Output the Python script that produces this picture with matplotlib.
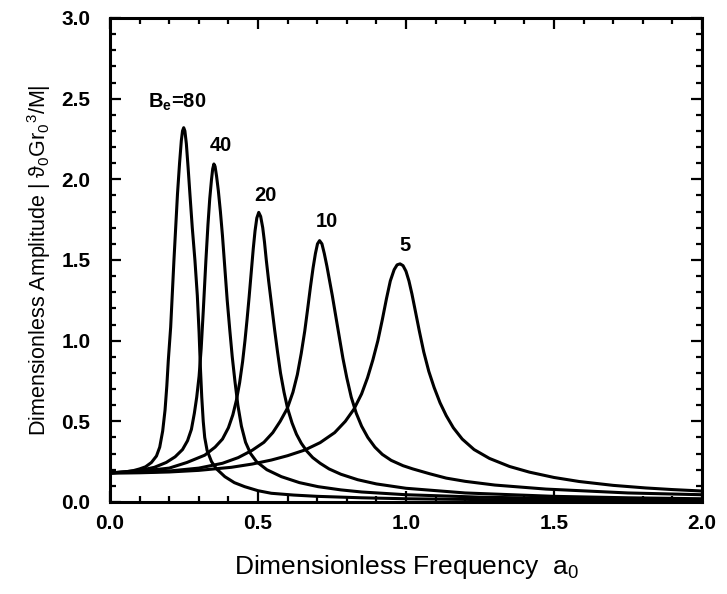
import matplotlib
matplotlib.use("Agg")
import matplotlib.pyplot as plt
from matplotlib.ticker import MultipleLocator

plt.rcParams['font.family'] = ['Liberation Sans', 'DejaVu Sans']
plt.rcParams['mathtext.fontset'] = 'custom'
plt.rcParams['mathtext.rm'] = 'Liberation Sans'
plt.rcParams['mathtext.it'] = 'Liberation Sans'
plt.rcParams['mathtext.bf'] = 'Liberation Sans:bold'

# ---- data ----
x_b80 = [0.0, 0.05, 0.08, 0.10, 0.12, 0.14, 0.157, 0.168, 0.178, 0.186, 0.192, 0.197,
         0.205, 0.216, 0.228, 0.235, 0.241, 0.245, 0.249, 0.253, 0.258, 0.264, 0.270,
         0.278, 0.287, 0.295, 0.301, 0.305, 0.310, 0.315, 0.320, 0.328, 0.343, 0.36,
         0.388, 0.42, 0.455, 0.50, 0.545, 0.62, 0.70, 0.85, 1.0, 1.25, 1.5, 2.0]
y_b80 = [0.18, 0.186, 0.195, 0.205, 0.218, 0.245, 0.285, 0.34, 0.44, 0.57, 0.72, 0.878,
         1.084, 1.497, 1.909, 2.10, 2.24, 2.30, 2.32, 2.30, 2.22, 2.07, 1.909,
         1.70, 1.497, 1.28, 1.05, 0.85, 0.65, 0.50, 0.40, 0.32, 0.25, 0.205,
         0.157, 0.12, 0.095, 0.07, 0.054, 0.043, 0.035, 0.026, 0.02, 0.015, 0.012, 0.008]

x_b40 = [0.0, 0.10, 0.15, 0.19, 0.22, 0.245, 0.262, 0.275, 0.285, 0.293, 0.301, 0.308,
         0.315, 0.324, 0.331, 0.337, 0.343, 0.347, 0.351, 0.355, 0.360, 0.366, 0.373,
         0.380, 0.386, 0.396, 0.405, 0.413, 0.422, 0.432, 0.444, 0.458, 0.475, 0.495,
         0.53, 0.579, 0.64, 0.703, 0.78, 0.85, 1.0, 1.25, 1.5, 2.0]
y_b40 = [0.18, 0.195, 0.215, 0.245, 0.28, 0.325, 0.38, 0.45, 0.55, 0.65, 0.78, 0.95,
         1.18, 1.497, 1.72, 1.88, 2.00, 2.065, 2.095, 2.08, 2.02, 1.93, 1.80,
         1.65, 1.50, 1.25, 1.06, 0.90, 0.75, 0.60, 0.47, 0.37, 0.30, 0.25,
         0.20, 0.157, 0.12, 0.095, 0.075, 0.062, 0.045, 0.03, 0.022, 0.013]

x_b20 = [0.0, 0.10, 0.20, 0.26, 0.32, 0.355, 0.38, 0.40, 0.415, 0.427, 0.438, 0.448,
         0.456, 0.463, 0.470, 0.477, 0.484, 0.490, 0.496, 0.5025, 0.509, 0.516, 0.522,
         0.528, 0.536, 0.545, 0.556, 0.566, 0.576, 0.588, 0.600, 0.615, 0.63, 0.646,
         0.665, 0.685, 0.71, 0.74, 0.78, 0.837, 0.90, 1.0, 1.2, 1.5, 1.75, 2.0]
y_b20 = [0.18, 0.19, 0.21, 0.245, 0.29, 0.34, 0.39, 0.46, 0.54, 0.63, 0.74, 0.87,
         1.0, 1.13, 1.27, 1.42, 1.57, 1.68, 1.76, 1.795, 1.77, 1.70, 1.61,
         1.50, 1.37, 1.235, 1.07, 0.93, 0.80, 0.68, 0.58, 0.49, 0.42, 0.365,
         0.315, 0.275, 0.24, 0.205, 0.172, 0.138, 0.112, 0.085, 0.056, 0.035, 0.026, 0.02]

x_b10 = [0.0, 0.10, 0.20, 0.30, 0.38, 0.433, 0.48, 0.52, 0.55, 0.575, 0.599, 0.618,
         0.633, 0.646, 0.658, 0.668, 0.677, 0.686, 0.694, 0.701, 0.708, 0.716, 0.724,
         0.733, 0.742, 0.751, 0.762, 0.774, 0.787, 0.80, 0.815, 0.832, 0.85, 0.871,
         0.895, 0.92, 0.95, 0.99, 1.023, 1.08, 1.136, 1.2, 1.3, 1.473, 1.75, 2.0]
y_b10 = [0.18, 0.183, 0.192, 0.21, 0.24, 0.275, 0.32, 0.37, 0.43, 0.50, 0.58, 0.68,
         0.79, 0.92, 1.06, 1.20, 1.33, 1.45, 1.54, 1.60, 1.62, 1.60, 1.54,
         1.46, 1.37, 1.28, 1.16, 1.03, 0.89, 0.77, 0.65, 0.55, 0.47, 0.40,
         0.34, 0.295, 0.258, 0.225, 0.205, 0.175, 0.148, 0.128, 0.105, 0.08, 0.056, 0.045]

x_b5 = [0.0, 0.10, 0.20, 0.30, 0.41, 0.48, 0.545, 0.60, 0.658, 0.71, 0.759, 0.795,
        0.824, 0.85, 0.87, 0.888, 0.905, 0.92, 0.934, 0.947, 0.96, 0.970, 0.980,
        0.990, 1.000, 1.010, 1.020, 1.032, 1.045, 1.060, 1.077, 1.095, 1.115, 1.136,
        1.16, 1.19, 1.23, 1.282, 1.35, 1.417, 1.5, 1.585, 1.7, 1.81, 1.9, 2.0]
y_b5 = [0.18, 0.181, 0.186, 0.196, 0.215, 0.235, 0.26, 0.287, 0.322, 0.368, 0.43, 0.50,
        0.575, 0.67, 0.77, 0.88, 1.0, 1.13, 1.26, 1.37, 1.44, 1.47, 1.476,
        1.465, 1.43, 1.37, 1.29, 1.18, 1.06, 0.93, 0.81, 0.71, 0.615, 0.535,
        0.46, 0.39, 0.325, 0.27, 0.22, 0.185, 0.152, 0.127, 0.103, 0.087, 0.077, 0.068]

series = [(x_b80, y_b80), (x_b40, y_b40), (x_b20, y_b20), (x_b10, y_b10), (x_b5, y_b5)]
labels = [r"B$_\mathbf{e}$=80", "40", "20", "10", "5"]
label_x = [0.228, 0.373, 0.524, 0.733, 0.998]
label_y = [2.476, 2.208, 1.899, 1.738, 1.589]

xticks = [0.0, 0.5, 1.0, 1.5, 2.0]
yticks = [0.0, 0.5, 1.0, 1.5, 2.0, 2.5, 3.0]

fig = plt.figure(figsize=(7.27, 5.94), dpi=100)
ax = fig.add_axes([0.1513, 0.1549, 0.8143, 0.8148])

for xs, ys in series:
    ax.plot(xs, ys, color='black', lw=2.2, solid_joinstyle='round', solid_capstyle='round')

for t, lx, ly in zip(labels, label_x, label_y):
    ax.text(lx, ly, t, ha='center', va='center', fontsize=14.5, fontweight='bold', color='black')

ax.set_xlim(0, 2.0)
ax.set_ylim(0, 3.0)
ax.set_xticks(xticks)
ax.set_yticks(yticks)
ax.set_xticklabels([f"{v:.1f}" for v in xticks], fontweight='bold')
ax.set_yticklabels([f"{v:.1f}" for v in yticks], fontweight='bold')
ax.xaxis.set_minor_locator(MultipleLocator(0.1))
ax.yaxis.set_minor_locator(MultipleLocator(0.1))
ax.tick_params(which='both', direction='in', top=True, right=True, width=1.6, labelsize=15)
ax.tick_params(which='major', length=8)
ax.tick_params(axis='x', which='major', pad=9)
ax.tick_params(axis='y', which='major', pad=14)
ax.tick_params(which='minor', length=4.5)
for s in ax.spines.values():
    s.set_linewidth(2.2)

ax.set_xlabel(r"Dimensionless Frequency  a$_\mathregular{0}$", fontsize=19, labelpad=14)
ax.set_ylabel(r"Dimensionless Amplitude | ϑ$_\mathregular{0}$Gr$_\mathregular{0}$$^\mathregular{3}$/M|",
              fontsize=15.5, labelpad=6)

fig.savefig("out.png", dpi=100)
